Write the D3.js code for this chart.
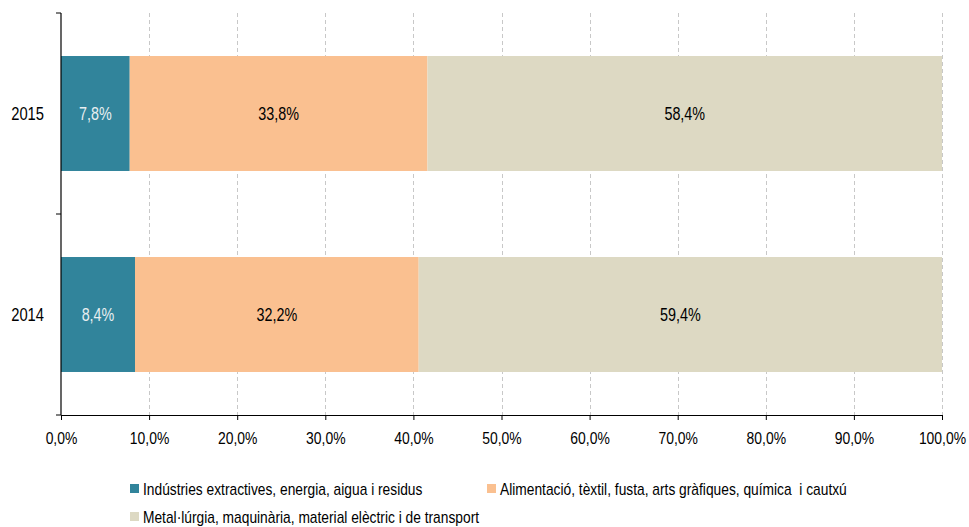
<!DOCTYPE html>
<html><head><meta charset="utf-8">
<script src="https://cdn.jsdelivr.net/npm/d3@7"></script>
<style>body{margin:0;background:#fff}text{font-family:"Liberation Sans",Arial,sans-serif;white-space:pre}</style>
</head><body><svg id="c" width="969" height="527"></svg>
<script>
const years = ["2015","2014"];
const seriesNames = ["Indústries extractives, energia, aigua i residus","Alimentació, tèxtil, fusta, arts gràfiques, química  i cautxú","Metal·lúrgia, maquinària, material elèctric i de transport"];
const seriesColors = ["#31849B","#FAC090","#DDD9C3"];
const labelColors = ["#e8eef0","#000","#000"];
const extractives = [7.8, 8.4];
const alimentacio = [33.8, 32.2];
const metallurgia = [58.4, 59.4];
const xTicks = [0,10,20,30,40,50,60,70,80,90,100];

const svg = d3.select("#c");
const L=61, R=942, T=13, B=415;
const x = d3.scaleLinear().domain([0,100]).range([L,R]);
const y = d3.scaleBand().domain(years).range([T,B]).paddingInner(0.428).paddingOuter(0.214);
const fmt = v => d3.format(".1f")(v).replace(".",",") + "%";
function narrow(sel){
  sel.each(function(){
    const ax=+(this.getAttribute("x")||0);
    d3.select(this).attr("transform",`translate(${ax},0) scale(0.82,1) translate(${-ax},0)`);
  });
}

// gridlines
svg.append("g").selectAll("line").data(xTicks.slice(1)).join("line")
  .attr("x1",d=>Math.round(x(d))+0.5).attr("x2",d=>Math.round(x(d))+0.5)
  .attr("y1",T).attr("y2",B).attr("stroke","#c8c8c8").attr("stroke-dasharray","4,3");

const series = [extractives, alimentacio, metallurgia];
years.forEach((yr,i)=>{
  let acc=0;
  series.forEach((s,j)=>{
    const v=s[i];
    svg.append("rect").attr("x",x(acc)).attr("width",x(acc+v)-x(acc))
      .attr("y",y(yr)).attr("height",y.bandwidth()).attr("fill",seriesColors[j]);
    svg.append("text").attr("class","n").attr("x",(x(acc)+x(acc+v))/2).attr("y",y(yr)+y.bandwidth()/2)
      .attr("dy","0.35em").attr("text-anchor","middle").attr("font-size",17.5)
      .attr("fill",labelColors[j]).text(fmt(v));
    acc+=v;
  });
});

// x axis
const xa = svg.append("g").attr("transform",`translate(0,${B})`)
  .call(d3.axisBottom(x).tickValues(xTicks).tickFormat(fmt).tickSize(5).tickSizeOuter(0));
xa.select(".domain").attr("stroke","#000").attr("stroke-width",1.2);
xa.selectAll("line").attr("stroke","#000");
xa.selectAll("text").attr("class","n").attr("font-size",17).attr("fill","#000").attr("x",0).attr("y",23).attr("dy","0.35em");

// y axis
const ya = svg.append("g").attr("transform",`translate(${L},0)`);
ya.append("line").attr("x1",0).attr("x2",0).attr("y1",T).attr("y2",B).attr("stroke","#000").attr("stroke-width",1.2);
const bounds=[T,(T+B)/2,B];
ya.selectAll(".t").data(bounds).join("line").attr("x1",-5).attr("x2",0).attr("y1",d=>d).attr("y2",d=>d).attr("stroke","#000");
ya.selectAll(".l").data(years).join("text").attr("class","n").attr("x",-17).attr("y",d=>y(d)+y.bandwidth()/2)
  .attr("dy","0.35em").attr("text-anchor","end").attr("font-size",18).attr("fill","#000").text(d=>d);

// legend
const legPos=[[130,489],[487,489],[130,517]];
seriesNames.forEach((n,i)=>{
  const g=svg.append("g").attr("transform",`translate(${legPos[i][0]},${legPos[i][1]})`);
  g.append("rect").attr("x",0).attr("y",-5).attr("width",9).attr("height",9).attr("fill",seriesColors[i]);
  g.append("text").attr("class","n").attr("x",13).attr("y",0).attr("dy","0.35em").attr("font-size",16.8).attr("fill","#000").text(n);
});
narrow(svg.selectAll("text.n"));
</script></body></html>
